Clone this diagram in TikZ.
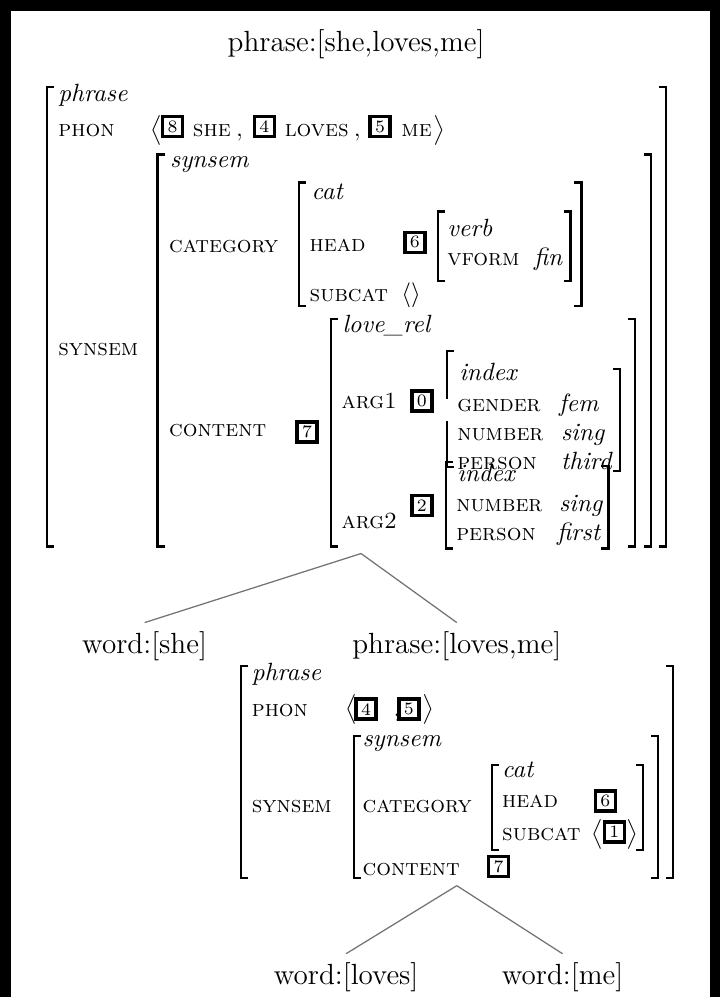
\documentclass[tikz,border=0pt]{standalone}
\usepackage{fontspec}
\usepackage{amsmath}
\usetikzlibrary{positioning}
\tikzset{
  brk/.style={line width=0.9pt},
  feat/.style={anchor=base west, inner sep=0pt, font=\fontsize{9.3}{10}\selectfont\scshape},
  typ/.style={anchor=base west, inner sep=0pt, font=\fontsize{10}{12}\selectfont\itshape},
  tag/.style={draw, line width=1.4pt, inner sep=0pt, minimum size=8pt, font=\fontsize{7}{8}\selectfont},
  lbl/.style={anchor=base, font=\fontsize{11.7}{14}\selectfont},
  branch/.style={black!55, line width=0.5pt}
}
% left / right AVM brackets: x, top, bottom
\newcommand{\lbr}[3]{\draw[brk] (#1+7,#2) -- (#1,#2) -- (#1,#3) -- (#1+7,#3);}
\newcommand{\rbr}[3]{\draw[brk] (#1-7,#2) -- (#1,#2) -- (#1,#3) -- (#1-7,#3);}

\begin{document}
\begin{tikzpicture}[x=0.4pt, y=-0.4pt]
    \fill[black] (0,0) rectangle (722,1000);
    \fill[white] (11,11) rectangle (712,1000);
    % top structure
    \node[lbl] (ttlA) at (357,52) {phrase:[she,loves,me]};
    \lbr{47}{87}{548} \rbr{668}{87}{548}
    \node[typ] (typA) at (58,102) {phrase};
    \node[feat] (phonA) at (58,137) {phon};
    \node[anchor=base west, inner sep=0pt] (lanA) at (150,137) {$\bigl\langle$};
    \node[tag] (t8) at (173,127) {8};
    \node[feat] (she) at (193,137) {she};
    \node[feat] (cmA) at (236,137) {,};
    \node[tag] (t4) at (265,127) {4};
    \node[feat] (loves) at (285,137) {loves};
    \node[feat] (cmB) at (354,137) {,};
    \node[tag] (t5) at (381,127) {5};
    \node[feat] (me) at (402,137) {me};
    \node[anchor=base west, inner sep=0pt] (ranA) at (434,137) {$\bigr\rangle$};
    \node[feat] (synsemA) at (58,356) {synsem};
    \lbr{158}{155}{548} \rbr{653}{155}{548}
    \node[typ] (ssA) at (170,168) {synsem};
    \node[feat] (catA) at (169,253) {category};
    \lbr{300}{183}{307} \rbr{583}{183}{307}
    \node[typ] (ctA) at (312,200) {cat};
    \node[feat] (headA) at (310,252) {head};
    \node[tag] (t6) at (416,243) {6};
    \lbr{439}{212}{282} \rbr{572}{212}{282}
    \node[typ] (verb) at (448,237) {verb};
    \node[feat] (vform) at (448,266) {vform};
    \node[typ] (fin) at (535,266) {fin};
    \node[feat] (subcatA) at (310,302) {subcat};
    \node[anchor=base west, inner sep=0pt] (emptyA) at (402,302) {$\langle\rangle$};
    \node[feat] (contA) at (169,438) {content};
    \node[tag] (t7) at (308,433) {7};
    \lbr{332}{320}{548} \rbr{637}{320}{548}
    \node[typ] (rel) at (343,333) {love\_rel};
    \node[feat] (argA) at (342,410) {arg1};
    \node[tag] (t0) at (423,402) {0};
    \node[feat] (argB) at (342,530) {arg2};
    \node[tag] (t2) at (423,507) {2};
    % index of arg1
    \draw[brk] (455,352) -- (448,352) -- (448,400);
    \draw[brk] (448,422) -- (448,468) -- (455,468);
    \rbr{622}{370}{472}
    \node[typ] (ixA) at (460,382) {index};
    \node[feat] (gen) at (458,413) {gender};
    \node[typ] (fem) at (560,413) {fem};
    \node[feat] (numA) at (458,442) {number};
    \node[typ] (sgA) at (562,442) {sing};
    \node[feat] (perA) at (458,471) {person};
    \node[typ] (third) at (562,471) {third};
    % index of arg2
    \lbr{447}{463}{550} \rbr{610}{467}{550}
    \node[typ] (ixB) at (458,483) {index};
    \node[feat] (numB) at (457,513) {number};
    \node[typ] (sgB) at (560,513) {sing};
    \node[feat] (perB) at (457,542) {person};
    \node[typ] (first) at (558,542) {first};
    % first branching
    \coordinate (apexA) at (362,555);
    \node[lbl] (wShe) at (145,655) {word:[she]};
    \node[lbl] (ttlB) at (458,655) {phrase:[loves,me]};
    \draw[branch] (apexA) -- (wShe.north);
    \draw[branch] (apexA) -- (ttlB.north);
    % lower structure
    \lbr{242}{668}{880} \rbr{675}{668}{880}
    \node[typ] (typB) at (252,682) {phrase};
    \node[feat] (phonB) at (252,718) {phon};
    \node[anchor=base west, inner sep=0pt] (lanB) at (346,718) {$\bigl\langle$};
    \node[tag] (t4b) at (367,711) {4};
    \node[feat] (cmC) at (394,718) {,};
    \node[tag] (t5b) at (410,711) {5};
    \node[anchor=base west, inner sep=0pt] (ranB) at (423,718) {$\bigr\rangle$};
    \node[feat] (synsemB) at (252,815) {synsem};
    \lbr{355}{738}{880} \rbr{660}{738}{880}
    \node[typ] (ssB) at (363,748) {synsem};
    \node[feat] (catB) at (363,815) {category};
    \lbr{493}{767}{852} \rbr{645}{767}{852}
    \node[typ] (ctB) at (503,780) {cat};
    \node[feat] (headB) at (503,810) {head};
    \node[tag] (t6b) at (607,803) {6};
    \node[feat] (subcatB) at (503,843) {subcat};
    \node[anchor=base west, inner sep=0pt] (lanC) at (593,843) {$\bigl\langle$};
    \node[tag] (t1) at (616,834) {1};
    \node[anchor=base west, inner sep=0pt] (ranC) at (628,843) {$\bigr\rangle$};
    \node[feat] (contB) at (363,878) {content};
    \node[tag] (t7b) at (500,869) {7};
    % second branching
    \coordinate (apexB) at (458,888);
    \node[lbl] (wLoves) at (347,987) {word:[loves]};
    \node[lbl] (wMe) at (564,987) {word:[me]};
    \draw[branch] (apexB) -- (wLoves.north);
    \draw[branch] (apexB) -- (wMe.north);
  \end{tikzpicture}
\end{document}
